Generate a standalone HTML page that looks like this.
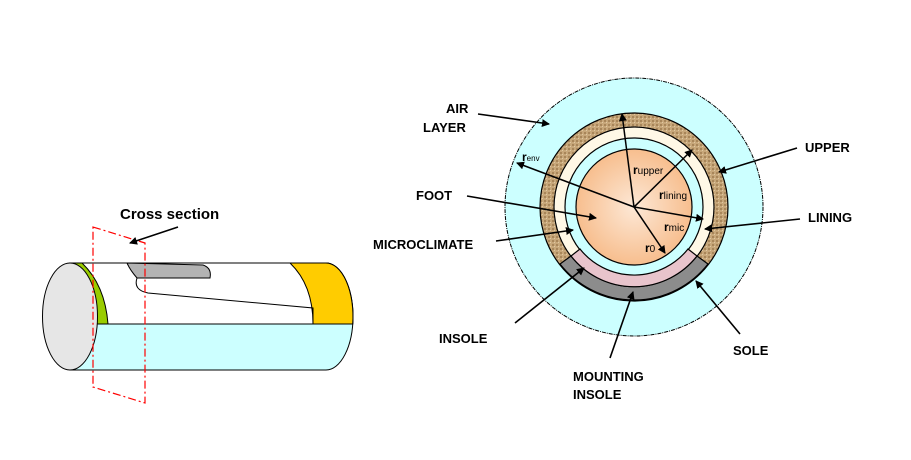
<!DOCTYPE html>
<html><head><meta charset="utf-8"><style>
html,body{margin:0;padding:0;background:#fff}
svg{display:block}
text{font-family:"Liberation Sans",Arial,sans-serif;font-weight:bold;fill:#000}
</style></head><body>
<svg width="911" height="460" viewBox="0 0 911 460" xmlns="http://www.w3.org/2000/svg">
<defs>
<marker id="ah" markerWidth="8" markerHeight="8" refX="7" refY="4" orient="auto" markerUnits="userSpaceOnUse">
<path d="M0,0 L8,4 L0,8 z" fill="#000"/></marker>
<radialGradient id="foot" cx="0.5" cy="0.5" r="0.5">
<stop offset="0" stop-color="#fde8d6"/><stop offset="1" stop-color="#f7be8e"/></radialGradient>
<pattern id="tex" width="4" height="4" patternUnits="userSpaceOnUse">
<rect width="4" height="4" fill="#c7a77a"/><rect width="2" height="2" fill="#a8865a"/><rect x="2" y="2" width="1" height="1" fill="#e0c9a3"/></pattern>
</defs>
<!-- Cylinder -->
<path d="M70,263 L326,263 A27,53.5 0 0 1 326,370 L70,370 Z" fill="#ccffff" stroke="#000" stroke-width="1"/>
<path d="M70,263 L326,263 A27,53.5 0 0 1 352.7,324 L70,324 Z" fill="#fff" stroke="#000" stroke-width="1"/>
<path d="M290,263 L326,263 A27,53.5 0 0 1 352.7,324 L313,324 Q313,285 290,263 Z" fill="#ffcc00" stroke="#000" stroke-width="1"/>
<path d="M70,263 L82,263 Q105,285 108,324 L96,324 Q92,285 70,263 Z" fill="#99cc00" stroke="#000" stroke-width="1"/>
<path d="M127,263 L203,265 Q212,268 210,278 L137,278 Q130,270 127,263 Z" fill="#b3b3b3" stroke="#000" stroke-width="1"/>
<path d="M137,278 Q133,290 148,293 L313,308 L313,324" fill="none" stroke="#000" stroke-width="1"/>
<ellipse cx="70" cy="316.5" rx="27.5" ry="53.5" fill="#e6e6e6" stroke="#000" stroke-width="1"/>
<path d="M93,227 L145,243 L145,403 L93,387 Z" fill="none" stroke="#ff0000" stroke-width="1.2" stroke-dasharray="8,3,2,3"/>
<line x1="178" y1="227" x2="130" y2="243" stroke="#000" stroke-width="1.5" marker-end="url(#ah)"/>
<text x="120" y="219" font-size="15">Cross section</text>

<!-- Cross-section circle -->
<circle cx="634" cy="207" r="129" fill="#ccffff" stroke="#000" stroke-width="1" stroke-dasharray="4,1,1,1"/>
<circle cx="634" cy="207" r="94" fill="url(#tex)" stroke="#000" stroke-width="1.2"/>
<circle cx="634" cy="207" r="80" fill="#fff8e6" stroke="#000" stroke-width="1.2"/>
<circle cx="634" cy="207" r="69" fill="#ccffff" stroke="#000" stroke-width="1.2"/>
<path d="M560,264 A94,94 0 0 0 708,264 L697,256 A80,80 0 0 1 571,256 Z" fill="#8c8c8c" stroke="#000" stroke-width="1.2"/>
<path d="M571,256 A80,80 0 0 0 697,256 L688,249 A69,69 0 0 1 580,249 Z" fill="#e8c4cc" stroke="#000" stroke-width="1.2"/>
<circle cx="634" cy="207" r="58" fill="url(#foot)" stroke="#000" stroke-width="1.2"/>
<g stroke="#000" stroke-width="1.5" marker-end="url(#ah)">
<line x1="634" y1="207" x2="622" y2="114"/>
<line x1="634" y1="207" x2="692" y2="150"/>
<line x1="634" y1="207" x2="517" y2="163"/>
<line x1="634" y1="207" x2="703" y2="219"/>
<line x1="634" y1="207" x2="665" y2="253"/>
</g>
<g font-size="12">
<text x="522" y="161">r<tspan font-size="8" font-weight="normal">env</tspan></text>
<text x="633" y="174">r<tspan font-size="10" font-weight="normal">upper</tspan></text>
<text x="659" y="199">r<tspan font-size="10" font-weight="normal">lining</tspan></text>
<text x="664" y="231">r<tspan font-size="10" font-weight="normal">mic</tspan></text>
<text x="645" y="252">r<tspan font-size="10" font-weight="normal">0</tspan></text>
</g>
<g stroke="#000" stroke-width="1.6" marker-end="url(#ah)">
<line x1="478" y1="114" x2="549" y2="124"/>
<line x1="467" y1="196" x2="596" y2="218"/>
<line x1="496" y1="241" x2="573" y2="230"/>
<line x1="515" y1="323" x2="584" y2="268"/>
<line x1="610" y1="358" x2="633" y2="292"/>
<line x1="740" y1="334" x2="696" y2="281"/>
<line x1="800" y1="219" x2="705" y2="229"/>
<line x1="797" y1="148" x2="719" y2="172"/>
</g>
<g font-size="13">
<text x="446" y="113">AIR</text>
<text x="423" y="132">LAYER</text>
<text x="416" y="200">FOOT</text>
<text x="373" y="249">MICROCLIMATE</text>
<text x="439" y="343">INSOLE</text>
<text x="573" y="381">MOUNTING</text>
<text x="573" y="399">INSOLE</text>
<text x="733" y="355">SOLE</text>
<text x="808" y="222">LINING</text>
<text x="805" y="152">UPPER</text>
</g>
</svg>
</body></html>
